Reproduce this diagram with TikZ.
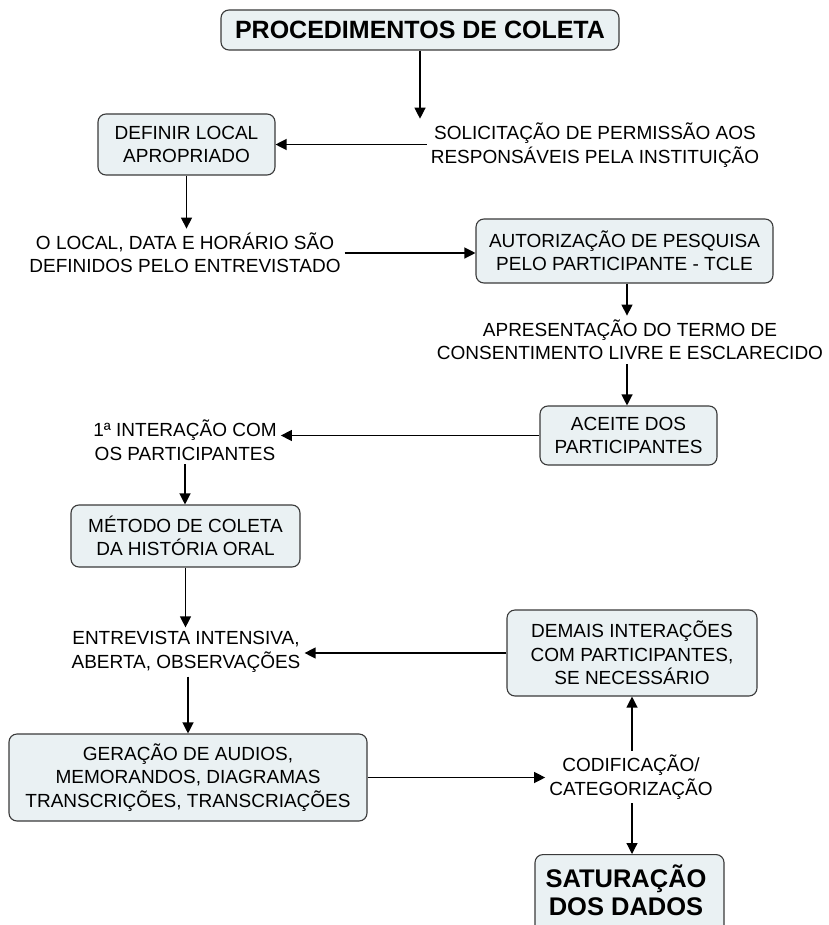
\documentclass[tikz,border=0pt]{standalone}
\usepackage{fontspec}
\setmainfont{Liberation Sans}
\usetikzlibrary{arrows.meta}
\definecolor{boxfill}{HTML}{EAF1F3}
\definecolor{boxline}{HTML}{3A3A3A}
\tikzset{
  txt/.style={font=\fontsize{19}{23.5}\selectfont},
  box/.style={draw=boxline, line width=1.1pt, fill=boxfill, rounded corners=8pt,
    align=center, inner sep=0pt, txt},
  lbl/.style={align=center, inner sep=4pt, txt},
  arr/.style={line width=1.2pt, -{Triangle[length=11pt,width=11pt]}},
}
\begin{document}
\begin{tikzpicture}[x=1pt,y=-1pt]
\useasboundingbox (0,0) rectangle (828,925);
\clip (0,0) rectangle (828,925);
% boxes
\node[box, minimum width=398pt, minimum height=40pt, font=\fontsize{25}{30}\selectfont\bfseries] (title) at (420,30) {PROCEDIMENTOS DE COLETA};
\node[box, minimum width=177pt, minimum height=61pt] (definir) at (186.5,144.5) {DEFINIR LOCAL\\APROPRIADO};
\node[box, minimum width=297pt, minimum height=64pt] (autoriz) at (624.5,251) {AUTORIZAÇÃO DE PESQUISA\\PELO PARTICIPANTE - TCLE};
\node[box, minimum width=177pt, minimum height=59pt] (aceite) at (628.5,435.5) {ACEITE DOS\\PARTICIPANTES};
\node[box, minimum width=229pt, minimum height=62pt] (metodo) at (185.5,536) {MÉTODO DE COLETA\\DA HISTÓRIA ORAL};
\node[box, minimum width=250pt, minimum height=86pt] (demais) at (632,653) {DEMAIS INTERAÇÕES\\COM PARTICIPANTES,\\SE NECESSÁRIO};
\node[box, minimum width=358pt, minimum height=87pt] (geracao) at (188,777.5) {GERAÇÃO DE AUDIOS,\\MEMORANDOS, DIAGRAMAS\\TRANSCRIÇÕES, TRANSCRIAÇÕES};
\node[box, minimum width=189pt, minimum height=120pt, anchor=north] (satur) at (629.5,854) {};
\node[align=center, inner sep=0pt, anchor=north, font=\fontsize{25.5}{28.5}\selectfont\bfseries] (saturtxt) at (626,869) {\rule{0pt}{18pt}\smash{SATURAÇÃO}\\DOS DADOS};
% labels
\node[lbl] (solicit) at (595,145) {SOLICITAÇÃO DE PERMISSÃO AOS\\RESPONSÁVEIS PELA INSTITUIÇÃO};
\node[lbl] (local) at (185,253) {O LOCAL, DATA E HORÁRIO SÃO\\DEFINIDOS PELO ENTREVISTADO};
\node[lbl] (apresent) at (630,340) {APRESENTAÇÃO DO TERMO DE\\CONSENTIMENTO LIVRE E ESCLARECIDO};
\node[lbl] (interacao) at (185,440) {1ª INTERAÇÃO COM\\OS PARTICIPANTES};
\node[lbl] (entrev) at (186,652) {ENTREVISTA INTENSIVA,\\ABERTA, OBSERVAÇÕES};
\node[lbl] (codif) at (631,777) {CODIFICAÇÃO/\\CATEGORIZAÇÃO};
% connectors
\draw[arr] (title.south) -- (title.south |- solicit.north);
\draw[arr] (solicit.west |- definir.east) -- (definir.east);
\draw[arr] (definir.south) -- (definir.south |- local.north);
\draw[arr] (local.east) -- (autoriz.west |- local.east);
\draw[arr] ([xshift=2.5pt]autoriz.south) -- ([xshift=2.5pt]autoriz.south |- apresent.north);
\draw[arr] ([xshift=2.5pt]autoriz.south |- apresent.south) -- ([xshift=2.5pt]autoriz.south |- aceite.north);
\draw[arr] (aceite.west) -- (interacao.east |- aceite.west);
\draw[arr] (interacao.south) -- (interacao.south |- metodo.north);
\draw[arr] (metodo.south) -- (metodo.south |- entrev.north);
\draw[arr] (demais.west) -- (entrev.east |- demais.west);
\draw[arr] (entrev.south -| geracao.north) -- (geracao.north);
\draw[arr] (geracao.east) -- (codif.west |- geracao.east);
\draw[arr] (codif.north -| demais.south) -- (demais.south);
\draw[arr] (codif.south -| demais.south) -- (demais.south |- satur.north);
\end{tikzpicture}
\end{document}
